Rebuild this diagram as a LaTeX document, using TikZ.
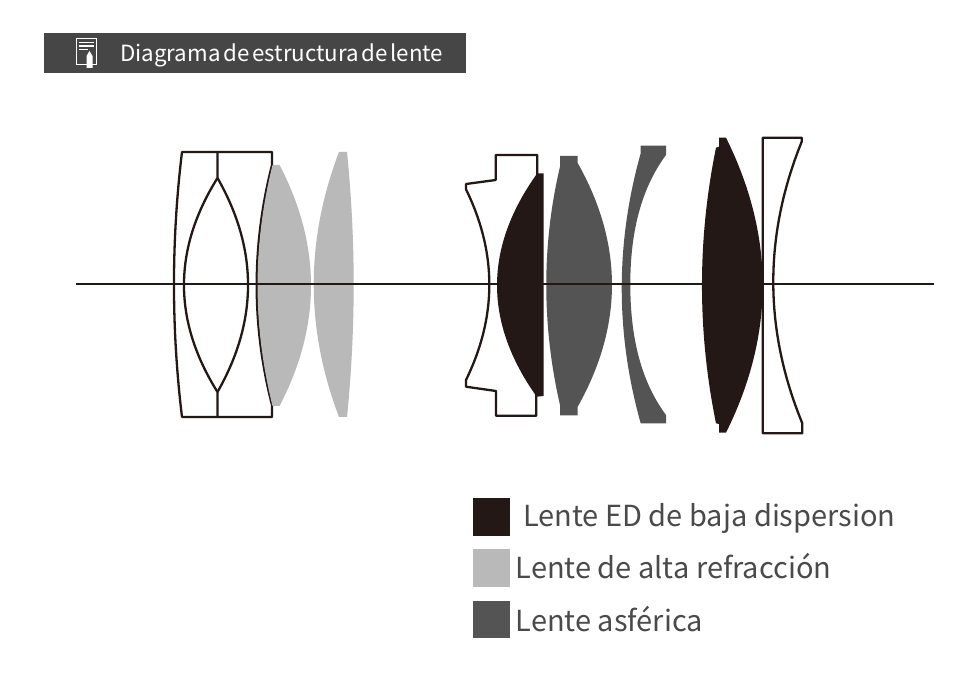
\documentclass[tikz,border=0pt]{standalone}
\usepackage{fontspec}
\setmainfont{Noto Sans CJK SC}
\newfontfamily\titlefont[WordSpace=0.55]{Noto Sans CJK SC}
\definecolor{inkk}{HTML}{231815}
\definecolor{lightg}{HTML}{B9B9B9}
\definecolor{darkg}{HTML}{545454}
\definecolor{bar}{HTML}{464646}
\definecolor{txt}{HTML}{4A4A4A}
\tikzset{
  lensline/.style={draw=inkk,line width=2.3pt,line join=round,fill=white},
  plainline/.style={draw=inkk,line width=2.3pt,line join=round},
  legendtext/.style={anchor=base west,inner sep=0pt,text=txt,font=\fontsize{29pt}{34pt}\selectfont}
}
\begin{document}
\begin{tikzpicture}[x=1pt,y=-1pt]
\useasboundingbox (0,0) rectangle (978,692);
\fill[white] (0,0) rectangle (978,692);
% header
\fill[bar] (44,33) rectangle (466,73);
\draw[white,line width=1pt] (76.5,38.5) rectangle (96.5,64.5);
\draw[white,line width=1.2pt] (79,42.5) -- (94,42.5) (79,46) -- (94,46) (79,49.5) -- (88,49.5);
\fill[white] (86.5,68) -- (86.5,56) -- (89.5,51) -- (92.5,56) -- (92.5,68) -- cycle;
\node[anchor=base west,inner sep=0pt,text=white,font=\titlefont\fontsize{22.3pt}{27pt}\selectfont] (title) at (120,61.5) {Diagrama de estructura de lente};
% group 1: doublet block
\path[lensline] (182,152) -- (272,152) -- (272,165)
  .. controls (251.6,245.3) and (251.6,325.7) .. (272,405) -- (272,417) -- (182,417)
  .. controls (171.3,328.7) and (171.3,240.3) .. (182,152) -- cycle;
\path[plainline] (217.5,152) -- (217.5,178)
  .. controls (172.8,249.3) and (172.8,320.7) .. (217.5,392) -- (217.5,417);
\path[plainline] (217.5,178) .. controls (258.2,249.3) and (258.2,320.7) .. (217.5,392);
% light lenses
\fill[lightg] (272.5,165) -- (279.5,165)
  .. controls (321.5,245.3) and (321.5,325.7) .. (279.5,406) -- (272.5,406)
  .. controls (252.6,325.7) and (252.6,245.3) .. (272.5,165) -- cycle;
\fill[lightg] (339,152) -- (347,152)
  .. controls (355.9,240.3) and (355.9,328.7) .. (347,417) -- (339,417)
  .. controls (305.3,328.7) and (305.3,240.3) .. (339,152) -- cycle;
% group 2: white concave element
\path[lensline] (495.7,155) -- (537.3,155) -- (537.3,173.3) -- (536.3,396) -- (536.3,415.7) -- (496,415.7) -- (496,391)
  -- (466,386.7) -- (466,380)
  .. controls (497.1,316.4) and (497.1,252.9) .. (466,189.3)
  -- (466,184) -- (495.7,180) -- cycle;
% black lens
\fill[inkk] (537.3,173.3) -- (543.5,173.3) -- (543.5,396) -- (536.7,396.7)
  .. controls (483.7,322.2) and (483.7,247.8) .. (537.3,173.3) -- cycle;
% dark grey lens
\fill[darkg] (560,156) -- (577.7,156) -- (577.7,163)
  .. controls (623.4,244.2) and (623.4,325.5) .. (577.7,406.7) -- (577.7,415.3) -- (560,415.3) -- (560,405)
  .. controls (541.7,325.5) and (541.7,244.2) .. (560,166.7) -- cycle;
% meniscus
\fill[darkg] (640.7,145.7) -- (666,145.7) -- (666,155)
  .. controls (640,190) and (630.3,235) .. (630.3,284.3)
  .. controls (630.3,335) and (640,380) .. (666,415) -- (666,423.3) -- (640.7,423.3)
  .. controls (615.4,333.3) and (615.4,243.3) .. (640.7,153.3) -- cycle;
% last black lens
\fill[inkk] (719,137.7) -- (726,137.7)
  .. controls (774.9,236) and (774.9,334.4) .. (726,432.7) -- (719,432.7) -- (719,424) -- (716,423.3)
  .. controls (697.3,331.4) and (697.3,239.5) .. (716,147.7) -- (719,146.7) -- cycle;
% last white lens
\path[lensline,fill=none] (762.7,137.7) -- (801.7,137.7) -- (801.7,141.7)
  .. controls (763.7,235.6) and (763.7,329.4) .. (802.3,423.3) -- (802.3,433.3) -- (762.7,433.3) -- cycle;
% axis
\coordinate (axisL) at (76,284.5);
\coordinate (axisR) at (934,284.5);
\draw[inkk,line width=2pt] (axisL) -- (axisR);
% legend
\fill[inkk] (473,498) rectangle (510,536);
\fill[lightg] (473,549) rectangle (510,587);
\fill[darkg] (473,601) rectangle (510,638);
\node[legendtext] (l1) at (523,526.5) {Lente ED de baja dispersion};
\node[legendtext] (l2) at (515.5,578.5) {Lente de alta refracción};
\node[legendtext] (l3) at (515.5,631.5) {Lente asférica};
\end{tikzpicture}
\end{document}
